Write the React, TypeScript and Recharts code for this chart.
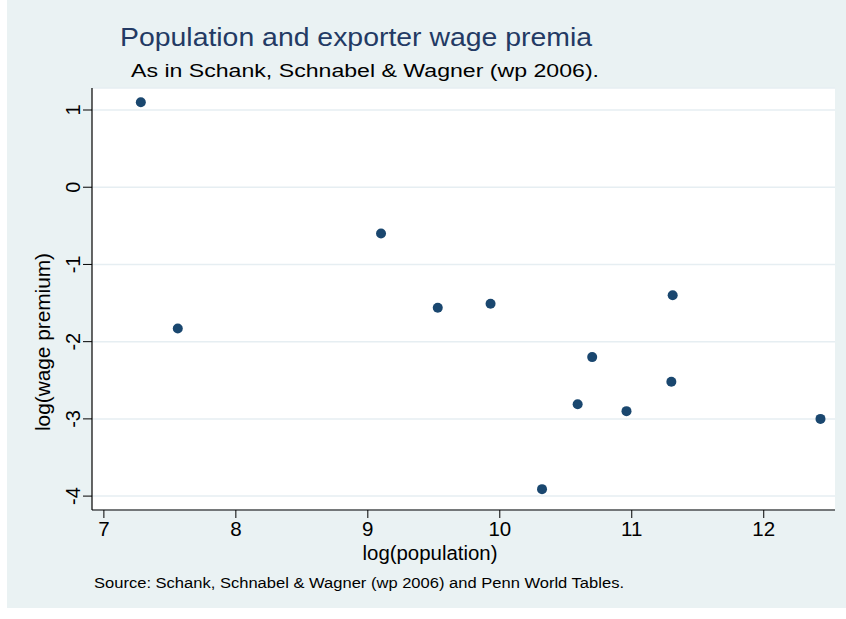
import { ScatterChart, Scatter, XAxis, YAxis, CartesianGrid } from "recharts"

const logPopulation = [7.28, 7.56, 9.1, 9.53, 9.93, 10.32, 10.59, 10.7, 10.96, 11.3, 11.31, 12.43]
const logWagePremium = [1.1, -1.83, -0.6, -1.56, -1.51, -3.91, -2.81, -2.2, -2.9, -2.52, -1.4, -3.0]
const xTicks = [7, 8, 9, 10, 11, 12]
const yTicks = [-4, -3, -2, -1, 0, 1]

const data = logPopulation.map((x, i) => ({ x, y: logWagePremium[i] }))

const FONT = "'Liberation Sans', Arial, Helvetica, sans-serif"
const NAVY = "#1a476f"
const BG = "#eaf2f3"

const XTick = (props: any) => {
  const { x, y, payload } = props
  return (
    <text x={x} y={y} dy={16} textAnchor="middle" fontSize={20.5} fontFamily={FONT} fill="#000">
      {payload.value}
    </text>
  )
}

const YTick = (props: any) => {
  const { x, y, payload } = props
  return (
    <text
      x={x}
      y={y}
      transform={`rotate(-90, ${x}, ${y})`}
      textAnchor="middle"
      fontSize={20}
      fontFamily={FONT}
      fill="#000"
    >
      {payload.value}
    </text>
  )
}

const Dot = (props: any) => <circle cx={props.cx} cy={props.cy} r={5} fill={NAVY} />

export default function App() {
  return (
    <div style={{ position: "absolute", left: 0, top: 0, width: 846, height: 619, background: "#fff" }}>
      <div style={{ position: "absolute", left: 7, top: 0, width: 839, height: 608, background: BG }} />
      <div style={{ position: "absolute", left: 0, top: 0 }}>
        <ScatterChart width={846} height={619} margin={{ top: 88, right: 11, bottom: 69, left: 32 }}>
          <CartesianGrid vertical={false} fill="#fff" stroke="#e6eef2" strokeWidth={1.5} />
          <XAxis
            type="number"
            dataKey="x"
            domain={[6.91, 12.54]}
            ticks={xTicks}
            allowDataOverflow
            height={40}
            tickSize={8}
            tickMargin={2}
            axisLine={{ stroke: "#000", strokeWidth: 1.2 }}
            tickLine={{ stroke: "#000" }}
            tick={<XTick />}
          />
          <YAxis
            type="number"
            dataKey="y"
            domain={[-4.18, 1.285]}
            ticks={yTicks}
            allowDataOverflow
            width={60}
            tickSize={9}
            tickMargin={3}
            axisLine={{ stroke: "#000", strokeWidth: 1.2 }}
            tickLine={{ stroke: "#000" }}
            tick={<YTick />}
          />
          <Scatter data={data} shape={<Dot />} isAnimationActive={false} />
        </ScatterChart>
      </div>
      <svg width={846} height={619} style={{ position: "absolute", left: 0, top: 0, pointerEvents: "none" }}>
        <text x={120} y={46} fontSize={25} fontFamily={FONT} fill="#233a64" textLength={472} lengthAdjust="spacingAndGlyphs">
          Population and exporter wage premia
        </text>
        <text x={131} y={77} fontSize={17.5} fontFamily={FONT} fill="#000" textLength={468} lengthAdjust="spacingAndGlyphs">
          As in Schank, Schnabel &amp; Wagner (wp 2006).
        </text>
        <text x={430} y={560} textAnchor="middle" fontSize={19.5} fontFamily={FONT} fill="#000" textLength={135} lengthAdjust="spacingAndGlyphs">
          log(population)
        </text>
        <text
          x={50}
          y={342}
          transform="rotate(-90, 50, 342)"
          textAnchor="middle"
          fontSize={19.5}
          fontFamily={FONT}
          fill="#000"
          textLength={178}
          lengthAdjust="spacingAndGlyphs"
        >
          log(wage premium)
        </text>
        <text x={94} y={588} fontSize={15.5} fontFamily={FONT} fill="#000" textLength={530} lengthAdjust="spacingAndGlyphs">
          Source: Schank, Schnabel &amp; Wagner (wp 2006) and Penn World Tables.
        </text>
      </svg>
    </div>
  )
}
